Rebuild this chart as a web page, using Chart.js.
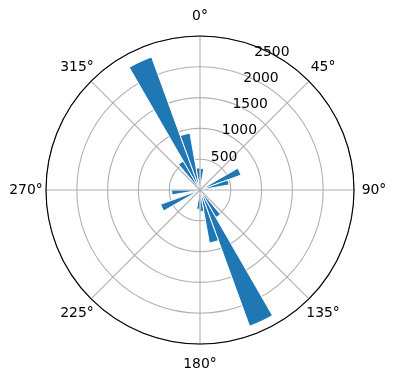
<!DOCTYPE html>
<html>
<head>
<meta charset="utf-8">
<script src="https://cdn.jsdelivr.net/npm/chart.js@4.4.1/dist/chart.umd.min.js"></script>
<style>
  html, body { margin: 0; padding: 0; background: #fff; }
  canvas { display: block; }
</style>
</head>
<body>
<canvas id="rose" width="396" height="380"></canvas>
<script>
// direction bins (start of each 10 degree bin)
const directions = [0, 10, 20, 30, 40, 50, 60, 70, 80, 90, 100, 110,
                    120, 130, 140, 150, 160, 170, 180, 190, 200, 210, 220, 230,
                    240, 250, 260, 270, 280, 290, 300, 310, 320, 330, 340, 350];
// counts per bin
const counts = [380, 80, 30, 20, 30, 100, 770, 520, 150, 60, 30, 20,
                40, 120, 560, 2560, 950, 380, 340, 80, 30, 20, 20, 60,
                740, 150, 500, 60, 30, 20, 40, 150, 590, 2500, 1020, 390];
const radialTicks = [500, 1000, 1500, 2000, 2500];
const angleTicks = [0, 45, 90, 135, 180, 225, 270, 315];
const R_MAX = 2720;

const barColor = '#1f77b4';
const gridColor = '#b0b0b0';
const labelFont = '13.9px "DejaVu Sans"';

// spokes, outer spine and all labels, drawn matplotlib style
const polarDecor = {
    id: 'polarDecor',
    afterDraw(chart) {
        const ctx = chart.ctx;
        const r = chart.scales.r;
        const cx = r.xCenter, cy = r.yCenter, outer = r.drawingArea;
        ctx.save();

        ctx.strokeStyle = gridColor;
        ctx.lineWidth = 1.1;
        angleTicks.forEach(deg => {
            const a = deg * Math.PI / 180;
            ctx.beginPath();
            ctx.moveTo(cx, cy);
            ctx.lineTo(cx + outer * Math.sin(a), cy - outer * Math.cos(a));
            ctx.stroke();
        });

        ctx.strokeStyle = '#000';
        ctx.beginPath();
        ctx.arc(cx, cy, outer, 0, Math.PI * 2);
        ctx.stroke();

        ctx.fillStyle = '#000';
        ctx.font = labelFont;
        ctx.textAlign = 'center';
        ctx.textBaseline = 'middle';
        angleTicks.forEach(deg => {
            const a = deg * Math.PI / 180;
            const d = outer + 20;
            ctx.fillText(deg + '°', cx + d * Math.sin(a), cy - d * Math.cos(a));
        });

        // radial labels sit along 22.5 degrees
        ctx.textAlign = 'left';
        ctx.textBaseline = 'bottom';
        const la = 22.5 * Math.PI / 180;
        radialTicks.forEach(v => {
            const d = r.getDistanceFromCenterForValue(v);
            ctx.fillText(String(v), cx + d * Math.sin(la), cy - d * Math.cos(la));
        });
        ctx.restore();
    }
};

new Chart(document.getElementById('rose'), {
    type: 'polarArea',
    data: {
        labels: directions.map(d => d + '°'),
        datasets: [{
            data: counts,
            backgroundColor: barColor,
            borderColor: '#fff',
            borderWidth: 1
        }]
    },
    options: {
        responsive: false,
        animation: false,
        layout: { padding: { left: 46, right: 42, top: 36, bottom: 36 } },
        plugins: {
            legend: { display: false },
            tooltip: { enabled: false }
        },
        scales: {
            r: {
                min: 0,
                max: R_MAX,
                startAngle: 0,
                z: 1,
                ticks: { display: false, stepSize: 500, includeBounds: false },
                grid: { color: gridColor, lineWidth: 1.1, circular: true },
                angleLines: { display: false },
                pointLabels: { display: false }
            }
        }
    },
    plugins: [polarDecor]
});
</script>
</body>
</html>
